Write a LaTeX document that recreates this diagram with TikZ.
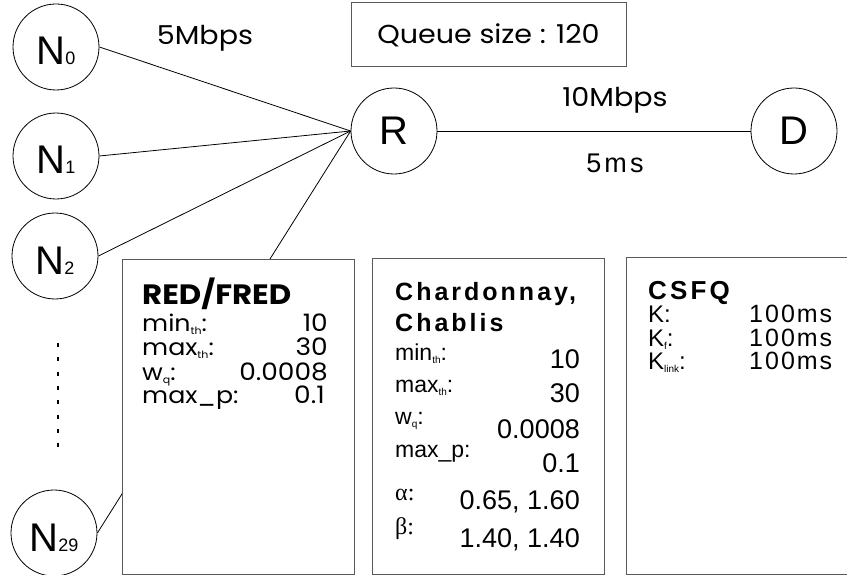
\documentclass[tikz,border=0pt]{standalone}
\usepackage{fontspec}
\setmainfont{Liberation Sans}
\newfontfamily\geo{Poppins}[FakeStretch=1.1]
\newfontfamily\grk{Liberation Serif}
\newfontfamily\hdr{Liberation Sans}[LetterSpace=12]
\newfontfamily\wide{Liberation Sans}[LetterSpace=8]
\newcommand\fsz[1]{\fontsize{#1}{#1}\selectfont}
\newcommand\sbs[1]{\raisebox{-3pt}{\fsz{10}#1}}
\begin{document}
\begin{tikzpicture}[x=1pt,y=-1pt,
  host/.style={circle,draw,line width=0.8pt,minimum size=86pt,inner sep=0pt,font=\fsz{40}},
  link/.style={line width=0.8pt},
  panel/.style={draw=black!65,line width=1pt,fill=white,anchor=north west},
  txt/.style={inner sep=0pt,anchor=base west},
  val/.style={inner sep=0pt,anchor=base east},
]
\useasboundingbox (0,0) rectangle (847,575);
% hosts
\node[host,text height=36pt,text depth=0pt] (N0) at (56,47) {N{\fsz{18}0}};
\node[host,text height=36pt,text depth=0pt] (N1) at (56,156) {N{\fsz{18}1}};
\node[host,text height=36pt,text depth=0pt] (N2) at (55,256) {N{\fsz{18}2}};
\node[host,text height=36pt,text depth=0pt] (N29) at (54,533) {N{\fsz{18}29}};
\node[host] (R) at (394,131) {R};
\node[host] (D) at (794,131) {D};
% links
\draw[link] (N0.east) -- (R.west);
\draw[link] (N1.east) -- (R.west);
\draw[link] (N2.east) -- (R.west);
\draw[link] (N29.east) -- (R.west);
\draw[link] (R.east) -- (D.west);
% dots
\coordinate (dtop) at (58,343);
\coordinate (dbot) at (58,447);
\draw[line width=2.2pt,dash pattern=on 4pt off 10.3pt] (dtop) -- (dbot);
% labels
\node[inner sep=0pt] (bw1) at (205,38) {\geo\fsz{26}5Mbps};
\node[inner sep=0pt] (bw2) at (615,100) {\geo\fsz{26}10Mbps};
\node[inner sep=0pt] (dl) at (615,163) {\hdr\fsz{27}5ms};
\node[draw=black!65,line width=1pt,minimum width=275pt,minimum height=64pt,inner sep=0pt] (queue) at (488.5,35) {\geo\fsz{26}Queue size : 120};
% panels
\node[panel,minimum width=232pt,minimum height=315pt] (red) at (122,259) {};
\node[panel,minimum width=232pt,minimum height=316pt] (chard) at (372,258) {};
\node[panel,minimum width=240pt,minimum height=317pt] (csfq) at (626,257) {};
% RED/FRED
\node[txt] (r0) at (142,304) {\geo\bfseries\fsz{28}RED/FRED};
\node[txt] (r1) at (142,331) {\geo\fsz{23}min\sbs{th}:};
\node[val] (r1v) at (328,331) {\geo\fsz{24}10};
\node[txt] (r2) at (142,355) {\geo\fsz{23}max\sbs{th}:};
\node[val] (r2v) at (328,355) {\geo\fsz{24}30};
\node[txt] (r3) at (142,380) {\geo\fsz{23}w\sbs{q}:};
\node[val] (r3v) at (328,380) {\geo\fsz{24}0.0008};
\node[txt] (r4) at (142,403) {\geo\fsz{23}max\_p:};
\node[val] (r4v) at (325,403) {\geo\fsz{24}0.1};
% Chardonnay
\node[txt] (c0) at (395,300) {\hdr\bfseries\fsz{25}Chardonnay,};
\node[txt] (c1) at (395,331) {\hdr\bfseries\fsz{25}Chablis};
\node[txt] (c2) at (395,360) {\fsz{23}min\sbs{th}:};
\node[val] (c2v) at (580,368) {\fsz{27}10};
\node[txt] (c3) at (395,392) {\fsz{23}max\sbs{th}:};
\node[val] (c3v) at (580,402) {\fsz{27}30};
\node[txt] (c4) at (395,424) {\fsz{23}w\sbs{q}:};
\node[val] (c4v) at (580,438) {\fsz{27}0.0008};
\node[txt] (c5) at (395,457) {\fsz{23}max\_p:};
\node[val] (c5v) at (580,472) {\fsz{27}0.1};
\node[txt] (c6) at (395,500) {\grk\fsz{24}α:};
\node[val] (c6v) at (580,509) {\fsz{27}0.65, 1.60};
\node[txt] (c7) at (395,534) {\grk\fsz{24}β:};
\node[val] (c7v) at (580,547) {\fsz{27}1.40, 1.40};
% CSFQ
\node[txt] (q0) at (648,299) {\hdr\bfseries\fsz{26}CSFQ};
\node[txt] (q1) at (648,322) {\fsz{24}K:};
\node[txt] (q1v) at (749,322) {\wide\fsz{25}100ms};
\node[txt] (q2) at (648,346) {\fsz{24}K\sbs{f}:};
\node[txt] (q2v) at (749,346) {\wide\fsz{25}100ms};
\node[txt] (q3) at (648,369) {\fsz{24}K\sbs{link}:};
\node[txt] (q3v) at (749,369) {\wide\fsz{25}100ms};
\end{tikzpicture}
\end{document}
